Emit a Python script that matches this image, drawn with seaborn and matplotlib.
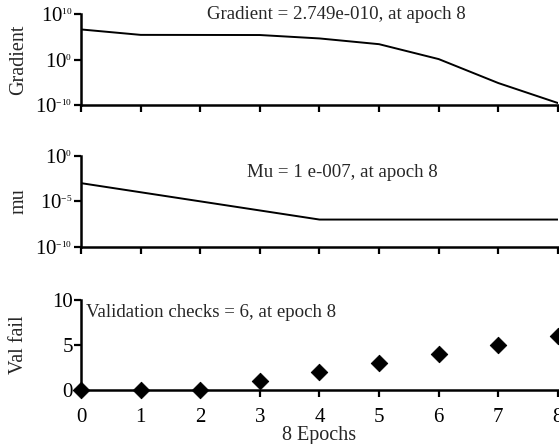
import matplotlib
matplotlib.use("Agg")
import matplotlib.pyplot as plt
import matplotlib.ticker as mticker
import matplotlib._mathtext as _mt
import seaborn as sns
import numpy as np
import pandas as pd

_mt.SHRINK_FACTOR = 0.45

epochs = [0, 1, 2, 3, 4, 5, 6, 7, 8]
gradient = [4.4e6, 2.8e5, 2.7e5, 2.6e5, 4.6e4, 2.5e3, 1.3, 6.9e-6, 2.749e-10]
mu = [1e-3, 1e-4, 1e-5, 1e-6, 1e-7, 1e-7, 1e-7, 1e-7, 1e-7]
val_fail = [0, 0, 0, 1, 2, 3, 4, 5, 6]

grad_ticks = [1e-10, 1e0, 1e10]
mu_ticks = [1e-10, 1e-5, 1e0]
val_ticks = [0, 5, 10]

grad_text = "Gradient = 2.749e-010, at apoch 8"
mu_text = "Mu = 1 e-007, at apoch 8"
val_text = "Validation checks = 6, at epoch 8"
xlabel = "8 Epochs"

df = pd.DataFrame({"epoch": epochs, "gradient": gradient, "mu": mu, "val": val_fail})

sns.set_style("ticks")
plt.rcParams["font.family"] = ["Liberation Serif", "DejaVu Serif"]
plt.rcParams["mathtext.fontset"] = "custom"
plt.rcParams["mathtext.rm"] = "Liberation Serif"
plt.rcParams["mathtext.it"] = "Liberation Serif:italic"
plt.rcParams["mathtext.bf"] = "Liberation Serif:bold"

fs = 13.6
tfs = 15
lfs = 14.5
fig = plt.figure(figsize=(5.59, 4.44), dpi=100)
left, width = 0.145, 0.853
ax1 = fig.add_axes([left, 0.7635, width, 0.2045])
ax2 = fig.add_axes([left, 0.444, width, 0.205])
ax3 = fig.add_axes([left, 0.1216, width, 0.2024])

sns.lineplot(data=df, x="epoch", y="gradient", ax=ax1, color="black", lw=1.4)
sns.lineplot(data=df, x="epoch", y="mu", ax=ax2, color="black", lw=1.4)
sns.scatterplot(data=df, x="epoch", y="val", ax=ax3, color="black", marker="D",
                s=70, edgecolor="black", clip_on=False, zorder=5)

for ax in (ax1, ax2, ax3):
    ax.set_xlim(0, 8)
    ax.set_xticks(epochs)
    for s in ("top", "right"):
        ax.spines[s].set_visible(False)
    for s in ("left", "bottom"):
        ax.spines[s].set_linewidth(1.8)
        ax.spines[s].set_color("black")
    ax.tick_params(direction="out", width=1.6, length=5, colors="black",
                   labelsize=tfs)
    ax.tick_params(axis="y", length=5, pad=1)
    ax.tick_params(axis="x", pad=8)
    ax.set_xlabel("")


def log_axis(ax, ticks):
    ax.set_yscale("log")
    ax.set_ylim(ticks[0], ticks[-1])
    ax.set_yticks(ticks)
    ax.minorticks_off()
    labels = ["$10^{%d}$" % int(round(np.log10(t))) for t in ticks]
    ax.yaxis.set_major_formatter(mticker.FixedFormatter(labels))


log_axis(ax1, grad_ticks)
ax1.set_xticklabels([])
ax1.set_ylabel("Gradient", fontsize=lfs)

log_axis(ax2, mu_ticks)
ax2.set_xticklabels([])
ax2.set_ylabel("mu", fontsize=lfs)

ax3.set_ylim(0, 10)
ax3.set_yticks(val_ticks)
ax3.set_ylabel("Val fail", fontsize=lfs)
ax3.set_xlabel(xlabel, fontsize=lfs, labelpad=-1)

for ax in (ax1, ax2, ax3):
    ax.yaxis.set_label_coords(-0.111, 0.5)

ax1.text(2.12, 1e10, grad_text, fontsize=fs, ha="left", va="center")
ax2.text(2.79, 10**-1.8, mu_text, fontsize=fs, ha="left", va="center")
ax3.text(0.09, 8.65, val_text, fontsize=fs, ha="left", va="center")

fig.savefig("out.png", dpi=100)
